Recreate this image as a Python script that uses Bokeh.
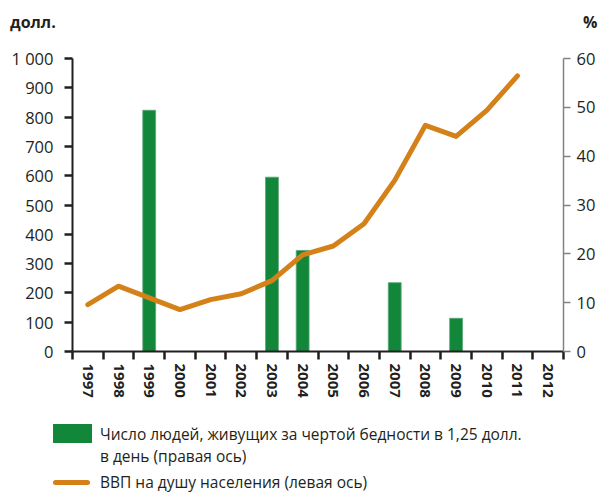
import numpy as np
from bokeh.plotting import figure
from bokeh.layouts import column
from bokeh.models import Range1d, LinearAxis, FixedTicker, Div
from bokeh.embed import file_html
from bokeh.resources import INLINE

# ---- data ----
years = [1997, 1998, 1999, 2000, 2001, 2002, 2003, 2004, 2005, 2006, 2007, 2008, 2009, 2010, 2011, 2012]
gdp_per_capita = [160, 223, 183, 143, 177, 197, 242, 330, 360, 436, 584, 772, 734, 823, 941, None]
poverty_years = [1999, 2003, 2004, 2007, 2009]
poverty_share = [49.4, 35.7, 20.7, 14.1, 6.8]
left_ticks = [0, 100, 200, 300, 400, 500, 600, 700, 800, 900, 1000]
right_ticks = [0, 10, 20, 30, 40, 50, 60]
left_unit = "долл."
right_unit = "%"
legend_bar = ["Число людей, живущих за чертой бедности в 1,25 долл.", "в день (правая ось)"]
legend_line = "ВВП на душу населения (левая ось)"

FONT = "Open Sans"
DARK = "#231f20"
GREEN = "#12873a"
ORANGE = "#d4811a"
GREY = "#808285"
W = 598

pos = {y: i + 0.5 for i, y in enumerate(years)}
x_line = [pos[y] for y in years]
gdp_vals = [np.nan if v is None else v for v in gdp_per_capita]
x_bars = [pos[y] for y in poverty_years]

base_css = ("position:relative;width:%dpx;height:%dpx;overflow:hidden;"
            "font-family:'Open Sans',sans-serif;color:%s;")

# ---- header with unit labels ----
head_html = (
    '<div style="' + base_css % (W, 40, DARK) + '">'
    '<span style="position:absolute;left:10px;top:11px;font-size:16px;font-weight:bold;line-height:22px;">'
    + left_unit + '</span>'
    '<span style="position:absolute;left:583px;top:11px;font-size:16px;font-weight:bold;line-height:22px;">'
    + right_unit + '</span></div>'
)
head = Div(text=head_html, width=W, height=40, margin=0)

# ---- main chart ----
p = figure(width=W, height=365, output_backend="svg", toolbar_location=None,
           x_range=Range1d(0, len(years)), y_range=Range1d(0, 1000),
           min_border_left=72, min_border_right=32, min_border_top=18, min_border_bottom=54)
p.outline_line_color = None
p.xgrid.grid_line_color = None
p.ygrid.grid_line_color = None
p.extra_y_ranges = {"right": Range1d(0, 60)}

ya = p.yaxis[0]
ya.ticker = FixedTicker(ticks=left_ticks)
ya.major_label_overrides = {1000: "1 000"}
ya.axis_line_color = DARK
ya.axis_line_width = 2
ya.major_tick_line_color = DARK
ya.major_tick_line_width = 2.5
ya.major_tick_out = 8
ya.major_tick_in = 0
ya.minor_tick_line_color = None
ya.major_label_text_font = FONT
ya.major_label_text_font_size = "16.5px"
ya.major_label_text_color = DARK
ya.major_label_standoff = 11

xa = p.xaxis[0]
xa.ticker = FixedTicker(ticks=x_line, minor_ticks=list(range(len(years) + 1)))
xa.major_label_overrides = {pos[y]: str(y) for y in years}
xa.major_label_orientation = "vertical"
xa.axis_line_color = DARK
xa.axis_line_width = 2
xa.major_tick_line_color = None
xa.major_tick_out = 8
xa.major_tick_in = 0
xa.minor_tick_line_color = DARK
xa.minor_tick_line_width = 2.5
xa.minor_tick_out = 8
xa.minor_tick_in = 0
xa.major_label_text_font = FONT
xa.major_label_text_font_style = "bold"
xa.major_label_text_font_size = "15px"
xa.major_label_text_color = DARK
xa.major_label_standoff = 4

ra = LinearAxis(y_range_name="right", ticker=FixedTicker(ticks=right_ticks))
ra.axis_line_color = GREY
ra.axis_line_width = 1.5
ra.major_tick_line_color = GREY
ra.major_tick_line_width = 1.5
ra.major_tick_out = 7
ra.major_tick_in = 0
ra.minor_tick_line_color = None
ra.major_label_text_font = FONT
ra.major_label_text_font_size = "16.5px"
ra.major_label_text_color = DARK
ra.major_label_standoff = 6
p.add_layout(ra, "right")

p.vbar(x=x_bars, top=poverty_share, width=0.42, bottom=0, y_range_name="right",
       fill_color=GREEN, line_color="#5aa878", line_width=0.8)
p.line(x=x_line, y=gdp_vals, line_color=ORANGE, line_width=5,
       line_cap="round", line_join="round")

# ---- legend ----
leg_html = (
    '<div style="' + base_css % (W, 87, DARK) + 'font-size:15.5px;">'
    '<div style="position:absolute;left:53px;top:19px;width:39px;height:19px;background:' + GREEN + ';"></div>'
    '<div style="position:absolute;left:100px;top:18px;line-height:22px;white-space:nowrap;">'
    + legend_bar[0] + '<br>' + legend_bar[1] + '</div>'
    '<div style="position:absolute;left:53px;top:75px;width:37px;height:5px;border-radius:3px;background:' + ORANGE + ';"></div>'
    '<div style="position:absolute;left:100px;top:68px;line-height:19px;white-space:nowrap;">'
    + legend_line + '</div></div>'
)
leg = Div(text=leg_html, width=W, height=87, margin=0)

layout = column(head, p, leg, spacing=0)
open("out.html", "w").write(file_html(layout, INLINE))
